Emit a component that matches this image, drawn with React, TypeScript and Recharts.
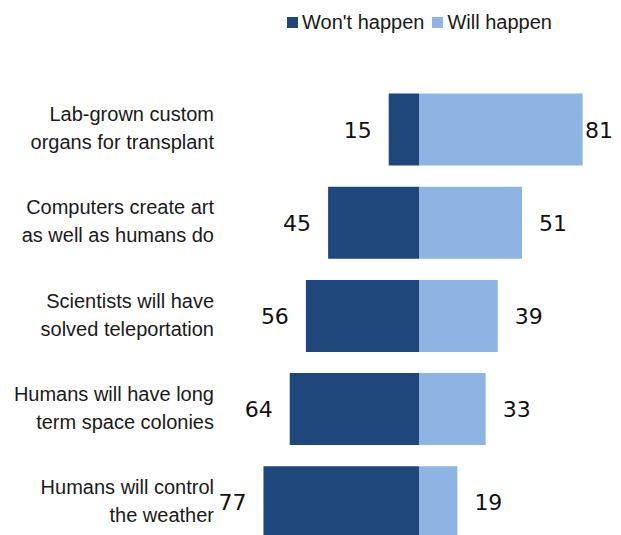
import React from "react";
import { BarChart, Bar, XAxis, YAxis, LabelList } from "recharts";

const categories: string[][] = [
  ["Lab-grown custom", "organs for transplant"],
  ["Computers create art", "as well as humans do"],
  ["Scientists will have", "solved teleportation"],
  ["Humans will have long", "term space colonies"],
  ["Humans will control", "the weather"],
];
const wontHappen = [15, 45, 56, 64, 77];
const willHappen = [81, 51, 39, 33, 19];
const seriesNames = ["Won't happen", "Will happen"];
const colors = ["#1F477B", "#8EB4E3"];

const data = categories.map((c, i) => ({
  name: String(i),
  wont: -wontHappen[i],
  will: willHappen[i],
}));

const LABEL_FONT = "'Liberation Sans', Arial, sans-serif";
const NUM_FONT = "'DejaVu Sans', sans-serif";

const CategoryTick = (props: any) => {
  const { y, payload } = props;
  const lines = categories[Number(payload.value)];
  return (
    <text
      x={206}
      y={y}
      textAnchor="end"
      fontFamily={LABEL_FONT}
      fontSize={20}
      fill="#1a1a1a"
    >
      <tspan x={206} y={y - 8}>{lines[0]}</tspan>
      <tspan x={206} y={y + 20}>{lines[1]}</tspan>
    </text>
  );
};

const WontLabel = (props: any) => {
  const { x, y, width, height, index } = props;
  const left = Math.min(x, x + width);
  return (
    <text
      x={left - 17}
      y={y + height / 2 + 8}
      textAnchor="end"
      fontFamily={NUM_FONT}
      fontSize={22}
      fill="#111"
    >
      {wontHappen[index]}
    </text>
  );
};

const WillLabel = (props: any) => {
  const { x, y, width, height, index } = props;
  const right = Math.max(x, x + width);
  const start = right + 17;
  const clamp = start + 28 > 605;
  return (
    <text
      x={clamp ? 605 : start}
      y={y + height / 2 + 8}
      textAnchor={clamp ? "end" : "start"}
      fontFamily={NUM_FONT}
      fontSize={22}
      fill="#111"
    >
      {willHappen[index]}
    </text>
  );
};

const LegendBlock = () => (
  <div
    style={{
      position: "absolute",
      left: 279,
      top: 3,
      display: "flex",
      alignItems: "center",
      fontFamily: LABEL_FONT,
      fontSize: 20,
      color: "#1a1a1a",
      whiteSpace: "nowrap",
    }}
  >
    {seriesNames.map((n, i) => (
      <div key={n} style={{ display: "flex", alignItems: "center", marginRight: 8 }}>
        <div style={{ width: 11, height: 11, background: colors[i], marginRight: 4 }} />
        <span>{n}</span>
      </div>
    ))}
  </div>
);

export default function App() {
  return (
    <div style={{ width: 613, height: 527, overflow: "hidden", position: "relative" }}>
      <BarChart
        width={613}
        height={541}
        data={data}
        layout="vertical"
        stackOffset="sign"
        margin={{ top: 74.5, right: 0, bottom: 0.5, left: 0 }}
      >
        <XAxis type="number" domain={[-100, 100]} hide />
        <YAxis
          type="category"
          dataKey="name"
          width={209}
          axisLine={false}
          tickLine={false}
          tickSize={0}
          tick={<CategoryTick />}
          interval={0}
        />
        <Bar dataKey="wont" stackId="a" fill={colors[0]} barSize={72} isAnimationActive={false}>
          <LabelList content={<WontLabel />} />
        </Bar>
        <Bar dataKey="will" stackId="a" fill={colors[1]} barSize={72} isAnimationActive={false}>
          <LabelList content={<WillLabel />} />
        </Bar>
      </BarChart>
      <LegendBlock />
    </div>
  );
}
